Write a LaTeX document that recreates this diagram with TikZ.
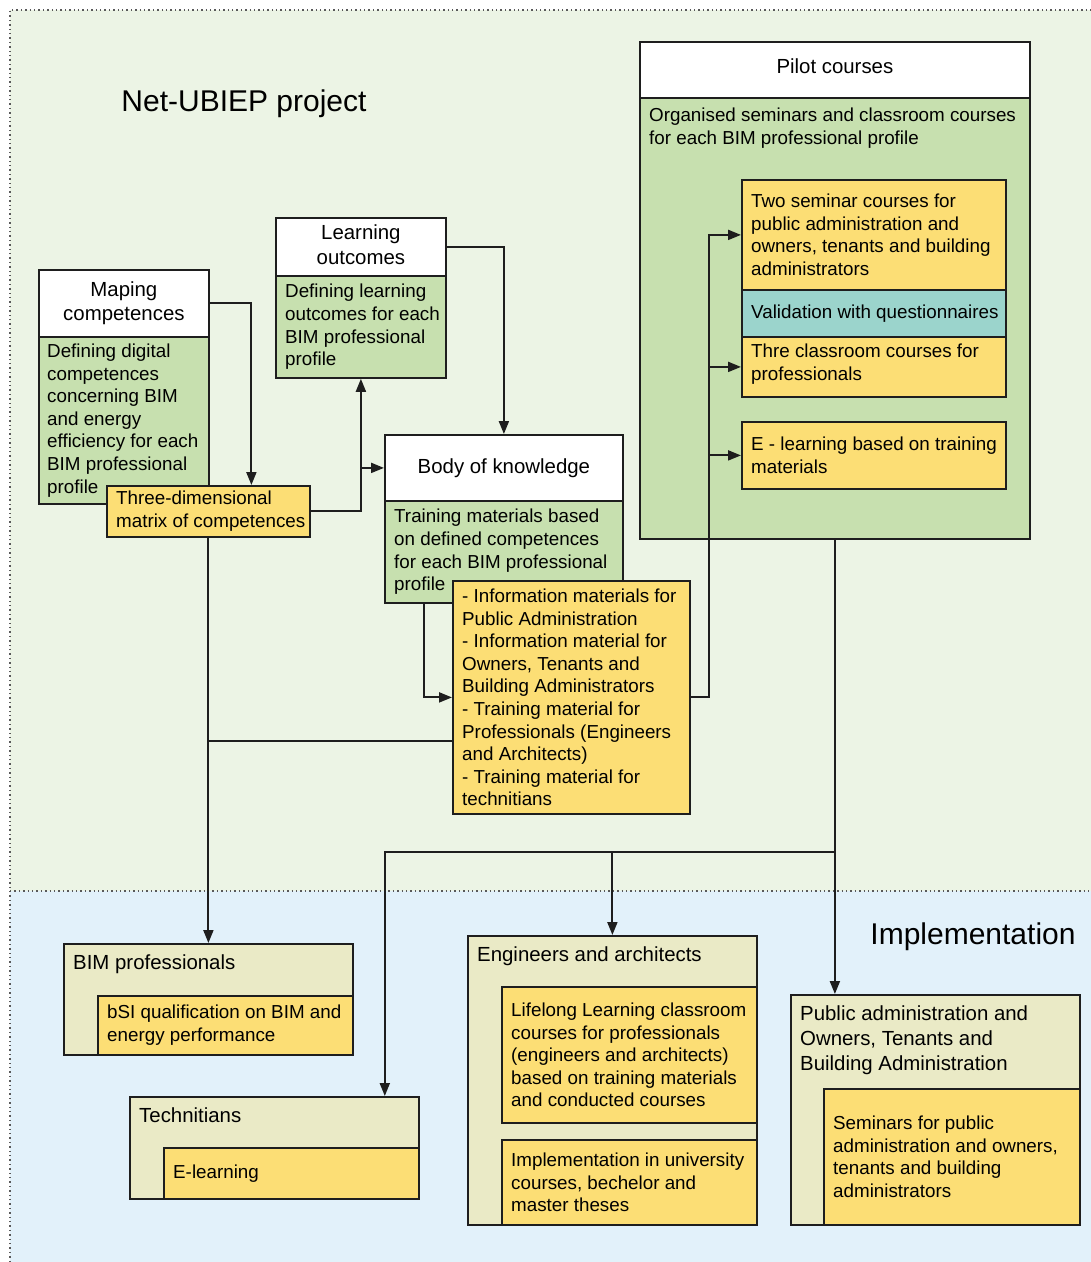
\documentclass[tikz,border=0pt]{standalone}
\usepackage{fontspec}
\setmainfont{Liberation Sans}
\usepackage{tikz}
\usetikzlibrary{arrows.meta,positioning}

\definecolor{bggreen}{RGB}{236,244,229}
\definecolor{bgblue}{RGB}{226,241,250}
\definecolor{bodygreen}{RGB}{199,224,175}
\definecolor{boxyellow}{RGB}{252,222,117}
\definecolor{boxteal}{RGB}{155,212,204}
\definecolor{boxbeige}{RGB}{234,234,198}
\definecolor{inkgray}{RGB}{30,30,30}

\newcommand{\txtsize}{\fontsize{18.8}{22.6}\selectfont}
\newcommand{\hdsize}{\fontsize{20.4}{24.6}\selectfont}

\tikzset{
  wh/.style 2 args={minimum width=#1, minimum height=#2},
  box/.style={draw=inkgray, line width=1.8pt, anchor=north west, inner sep=0pt, font=\hdsize, align=center},
  hdrbox/.style={box, fill=white},
  grnbox/.style={box, fill=bodygreen},
  ylwbox/.style={box, fill=boxyellow},
  tealbox/.style={box, fill=boxteal},
  beigebox/.style={box, fill=boxbeige},
  txt/.style={inner sep=0pt, anchor=west, align=left, font=\txtsize},
  toptxt/.style={inner sep=0pt, anchor=north west, align=left, font=\txtsize},
  hdtxt/.style={inner sep=0pt, anchor=north west, align=left, font=\hdsize},
  conn/.style={draw=inkgray, line width=2pt},
  area/.style={draw=gray!70!black, line width=1.4pt, dash pattern=on 1.4pt off 3pt}
}

\begin{document}
\begin{tikzpicture}[x=1pt, y=-1pt, >={Triangle[length=13pt,width=10pt]}]
    \useasboundingbox (0,0) rectangle (1091,1262);
    % background areas
    \fill[bggreen] (10,10) rectangle (1091,891);
    \fill[bgblue] (10,891) rectangle (1091,1262);
    \draw[area] (10,1262) -- (10,10) -- (1091,10);
    \draw[area] (10,891) -- (1091,891);
    \node[font=\fontsize{30}{36}\selectfont] (proj) at (244,104) {Net-UBIEP project};
    \node[font=\fontsize{30}{36}\selectfont] (impl) at (973,937) {Implementation};

    % mapping and learning outcomes
    \node[hdrbox, wh={170}{67}] (map) at (38,269) {Maping\\competences};
    \node[grnbox, wh={170}{167}] (mapb) at (38,336) {};
    \node[txt] (mapb-t) at ([shift={(9,0)}]mapb.west) {Defining digital\\competences\\concerning BIM\\and energy\\efficiency for each\\BIM professional\\profile};
    \node[hdrbox, wh={170}{58}, text depth=5pt] (lo) at (275,217) {Learning\\outcomes};
    \node[grnbox, wh={170}{102}] (lob) at (275,275) {};
    \node[txt] (lob-t) at ([shift={(10,0)}]lob.west) {Defining learning\\outcomes for each\\BIM professional\\profile};
    \node[ylwbox, wh={203}{51}] (mat) at (106,485) {};
    \node[txt] (mat-t) at ([shift={(10,0)}]mat.west) {Three-dimensional\\matrix of competences};

    % body of knowledge
    \node[hdrbox, wh={238}{66}] (bok) at (384,434) {Body of knowledge};
    \node[grnbox, wh={238}{102}] (bokb) at (384,500) {};
    \node[txt] (bokb-t) at ([shift={(10,0)}]bokb.west) {Training materials based\\on defined competences\\for each BIM professional\\profile};
    \node[ylwbox, wh={237}{233}] (info) at (452,580) {};
    \node[txt] (info-t) at ([shift={(10,0)}]info.west) {- Information materials for\\Public Administration\\- Information material for\\Owners, Tenants and\\Building Administrators\\- Training material for\\Professionals (Engineers\\and Architects)\\- Training material for\\technitians};

    % pilot courses
    \node[hdrbox, wh={390}{56}, text depth=8pt] (pil) at (639,41) {Pilot courses};
    \node[grnbox, wh={390}{441}] (pilb) at (639,97) {};
    \node[toptxt] (pilb-t) at ([shift={(10,11)}]pilb.north west) {Organised seminars and classroom courses\\for each BIM professional profile};
    \node[ylwbox, wh={264}{110}] (two) at (741,179) {};
    \node[txt] (two-t) at ([shift={(10,0)}]two.west) {Two seminar courses for\\public administration and\\owners, tenants and building\\administrators};
    \node[tealbox, wh={264}{47}] (val) at (741,289) {};
    \node[txt] (val-t) at ([shift={(10,0)}]val.west) {Validation with questionnaires};
    \node[ylwbox, wh={264}{60}] (thr) at (741,336) {};
    \node[txt] (thr-t) at ([shift={(10,-3)}]thr.west) {Thre classroom courses for\\professionals};
    \node[ylwbox, wh={264}{67}] (elr) at (741,421) {};
    \node[txt] (elr-t) at ([shift={(10,0)}]elr.west) {E - learning based on training\\materials};

    % implementation
    \node[beigebox, wh={289}{111}] (bimp) at (63,943) {};
    \node[hdtxt] (bimp-t) at ([shift={(10,12)}]bimp.north west) {BIM professionals};
    \node[ylwbox, wh={255}{59}] (bimq) at (97,995) {};
    \node[txt] (bimq-t) at ([shift={(10,0)}]bimq.west) {bSI qualification on BIM and\\energy performance};
    \node[beigebox, wh={289}{102}] (tech) at (129,1096) {};
    \node[hdtxt] (tech-t) at ([shift={(10,12)}]tech.north west) {Technitians};
    \node[ylwbox, wh={255}{51}] (techq) at (163,1147) {};
    \node[txt] (techq-t) at ([shift={(10,0)}]techq.west) {E-learning};
    \node[beigebox, wh={289}{289}] (eng) at (467,935) {};
    \node[hdtxt] (eng-t) at ([shift={(10,12)}]eng.north west) {Engineers and architects};
    \node[ylwbox, wh={255}{136}] (engq) at (501,986) {};
    \node[txt] (engq-t) at ([shift={(10,0)}]engq.west) {Lifelong Learning classroom\\courses for professionals\\(engineers and architects)\\based on training materials\\and conducted courses};
    \node[ylwbox, wh={255}{85}] (uni) at (501,1139) {};
    \node[txt] (uni-t) at ([shift={(10,0)}]uni.west) {Implementation in university\\courses, bechelor and\\master theses};
    \node[beigebox, wh={289}{230}] (pub) at (790,994) {};
    \node[hdtxt] (pub-t) at ([shift={(10,12)}]pub.north west) {Public administration and\\Owners, Tenants and\\Building Administration};
    \node[ylwbox, wh={256}{136}] (pubq) at (823,1088) {};
    \node[txt] (pubq-t) at ([shift={(10,0)}]pubq.west) {Seminars for public\\administration and owners,\\tenants and building\\administrators};

    % connectors
    \draw[conn,->] (map.east) -| ([shift={(43,0)}]mat.north);
    \draw[conn,->] (mat.east) -| (lob.south);
    \draw[conn,->] (lob.south |- bok.west) -- (bok.west);
    \draw[conn,->] (lo.east) -| (bok.north);
    \draw[conn,->] ([shift={(40,0)}]bokb.south west) |- (info.west);
    \coordinate (bus) at ([shift={(18,0)}]info.east);
    \draw[conn,->] (info.east) -- (bus) |- (two.west);
    \draw[conn,->] (bus |- thr.west) -- (thr.west);
    \draw[conn,->] (bus |- elr.west) -- (elr.west);
    \draw[conn,->] (mat.south) -- (bimp.north);
    \coordinate (tie) at ([shift={(0,43.5)}]info.west);
    \draw[conn] (tie) -- (tie -| mat.south);
    \coordinate (hub) at ([shift={(0,312)}]pilb.south);
    \draw[conn,->] (pilb.south) -- (pilb.south |- pub.north);
    \draw[conn,->] (hub) -| ([shift={(-35,0)}]tech.north east);
    \draw[conn,->] (hub -| eng.north) -- (eng.north);
\end{tikzpicture}
\end{document}
